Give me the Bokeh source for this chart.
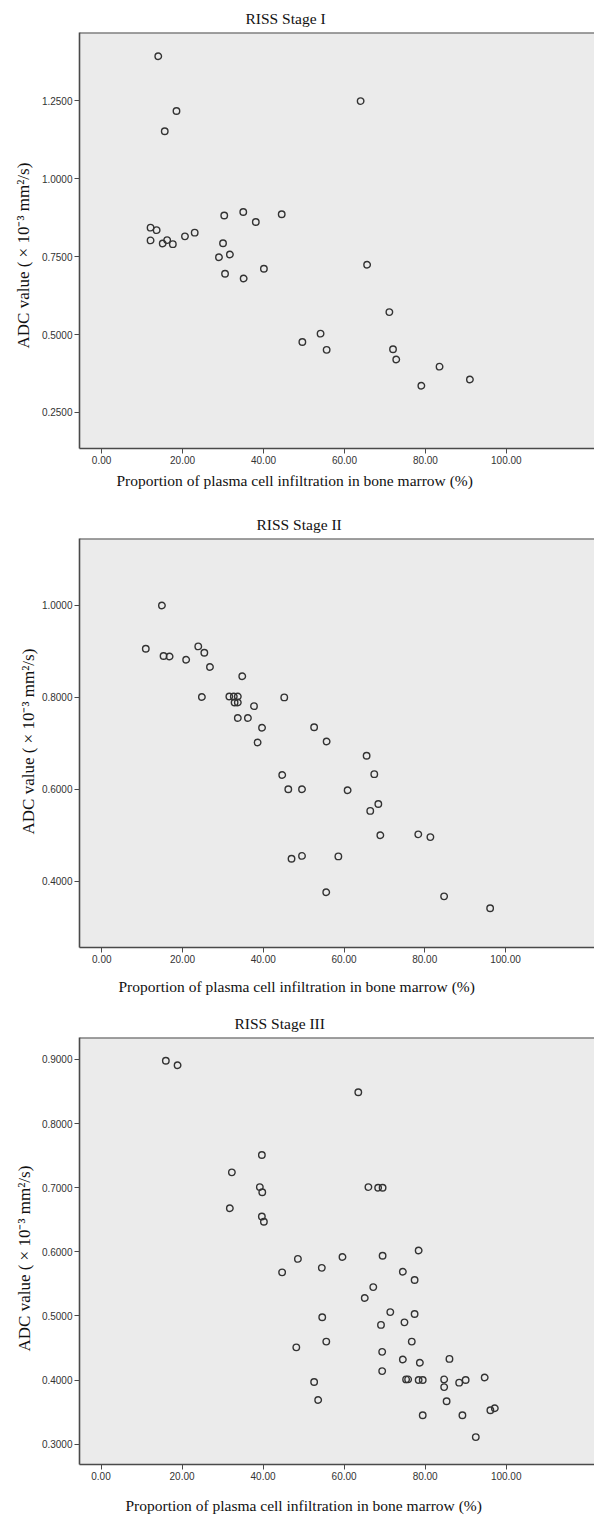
import math
from bokeh.plotting import figure
from bokeh.layouts import column
from bokeh.models import FixedTicker, Span, Range1d, PrintfTickFormatter, Title
from bokeh.embed import file_html
from bokeh.resources import INLINE

# ---------------- data ----------------
TITLES = ["RISS Stage I", "RISS Stage II", "RISS Stage III"]
X_LABEL = "Proportion of plasma cell infiltration in bone marrow (%)"
Y_LABEL = "ADC value ( \u00d7 10\u207b\u00b3 mm\u00b2/s)"

X_TICKS = [0, 20, 40, 60, 80, 100]
X_TICK_LABELS = ["0.00", "20.00", "40.00", "60.00", "80.00", "100.00"]

Y1_TICKS = [0.25, 0.5, 0.75, 1.0, 1.25]
Y1_TICK_LABELS = ["0.2500", "0.5000", "0.7500", "1.0000", "1.2500"]
Y2_TICKS = [0.4, 0.6, 0.8, 1.0]
Y2_TICK_LABELS = ["0.4000", "0.6000", "0.8000", "1.0000"]
Y3_TICKS = [0.3, 0.4, 0.5, 0.6, 0.7, 0.8, 0.9]
Y3_TICK_LABELS = ["0.3000", "0.4000", "0.5000", "0.6000", "0.7000", "0.8000", "0.9000"]

STAGE1_X = [14.0, 18.5, 15.6, 64.0, 30.3, 35.0, 38.1, 44.5, 12.1, 13.6, 12.1, 15.1,
            16.2, 17.6, 20.6, 23.0, 30.0, 29.0, 31.7, 30.5, 35.1, 40.1, 65.6, 71.1,
            54.1, 49.6, 55.6, 72.0, 72.8, 83.5, 79.0, 91.0]
STAGE1_Y = [1.393, 1.217, 1.152, 1.249, 0.882, 0.893, 0.861, 0.886, 0.843, 0.835, 0.802, 0.792,
            0.803, 0.790, 0.815, 0.827, 0.793, 0.748, 0.757, 0.695, 0.680, 0.711, 0.724, 0.572,
            0.503, 0.476, 0.451, 0.453, 0.420, 0.397, 0.336, 0.356]

STAGE2_X = [14.9, 10.9, 15.3, 16.8, 20.9, 23.9, 25.4, 26.8, 34.8, 24.8, 31.6, 32.7,
            33.7, 32.9, 33.7, 37.7, 45.2, 33.7, 36.2, 39.7, 52.6, 38.6, 55.7, 65.6,
            44.7, 67.5, 46.2, 49.6, 60.9, 68.5, 66.5, 69.0, 78.4, 81.4, 47.0, 49.6,
            58.6, 55.6, 84.8, 96.2]
STAGE2_Y = [1.000, 0.906, 0.890, 0.889, 0.882, 0.911, 0.897, 0.866, 0.846, 0.801, 0.802, 0.802,
            0.802, 0.789, 0.789, 0.781, 0.800, 0.755, 0.755, 0.734, 0.735, 0.702, 0.704, 0.673,
            0.631, 0.633, 0.600, 0.600, 0.598, 0.568, 0.553, 0.500, 0.502, 0.496, 0.449, 0.455,
            0.454, 0.376, 0.367, 0.341]

STAGE3_X = [16.0, 18.9, 63.5, 39.7, 32.3, 39.2, 39.8, 31.8, 39.7, 40.2, 66.0, 68.4,
            69.5, 48.6, 59.6, 69.5, 78.4, 54.5, 44.7, 74.5, 77.4, 67.2, 65.1, 71.4,
            77.4, 54.6, 69.1, 74.9, 76.7, 55.6, 48.2, 69.4, 74.5, 78.7, 86.0, 69.4,
            75.3, 75.8, 78.4, 79.4, 84.7, 84.7, 90.0, 88.4, 94.7, 52.6, 53.6, 85.3,
            79.4, 89.2, 96.1, 97.2, 92.5]
STAGE3_Y = [0.898, 0.891, 0.849, 0.751, 0.724, 0.701, 0.693, 0.668, 0.655, 0.647, 0.701, 0.700,
            0.700, 0.589, 0.592, 0.594, 0.602, 0.575, 0.568, 0.569, 0.556, 0.545, 0.528, 0.506,
            0.503, 0.498, 0.486, 0.490, 0.460, 0.460, 0.451, 0.444, 0.432, 0.427, 0.433, 0.414,
            0.401, 0.401, 0.400, 0.400, 0.401, 0.389, 0.400, 0.396, 0.404, 0.397, 0.369, 0.367,
            0.345, 0.345, 0.353, 0.356, 0.311]

# ---------------- styles ----------------
W = 594
SERIF = "Liberation Serif"
SANS = "Liberation Sans"
BG = "#ebebeb"
DARK = "#4a4a4a"
TEXT = "#111111"

PANELS = [
    dict(title=TITLES[0], xs=STAGE1_X, ys=STAGE1_Y, yt=Y1_TICKS, ytl=Y1_TICK_LABELS,
         h=500, left=74, top=32, bottom=52, xr=(-5.46, 121.78), yr=(0.1345, 1.469),
         t_off=166, xl_off=37, xl_gap=1, yl_off=100, yl_stand=12),
    dict(title=TITLES[1], xs=STAGE2_X, ys=STAGE2_Y, yt=Y2_TICKS, ytl=Y2_TICK_LABELS,
         h=500, left=79, top=38, bottom=53, xr=(-5.52, 122.05), yr=(0.2557, 1.1458),
         t_off=177, xl_off=39, xl_gap=8, yl_off=113, yl_stand=2),
    dict(title=TITLES[2], xs=STAGE3_X, ys=STAGE3_Y, yt=Y3_TICKS, ytl=Y3_TICK_LABELS,
         h=515, left=75, top=37, bottom=51, xr=(-5.31, 121.8), yr=(0.2683, 0.9343),
         t_off=155, xl_off=46, xl_gap=10, yl_off=113, yl_stand=10),
]


def make_panel(c):
    p = figure(width=W, height=c["h"], output_backend="svg", toolbar_location=None,
               title=None, x_range=Range1d(*c["xr"]), y_range=Range1d(*c["yr"]),
               min_border_left=c["left"], min_border_right=0,
               min_border_top=c["top"], min_border_bottom=c["bottom"])
    p.background_fill_color = BG
    p.border_fill_color = "white"
    p.outline_line_color = None
    p.grid.grid_line_color = None

    for ax, ticks, labels, fmt in ((p.xaxis[0], X_TICKS, X_TICK_LABELS, "%.2f"),
                                   (p.yaxis[0], c["yt"], c["ytl"], "%.4f")):
        ax.ticker = FixedTicker(ticks=ticks)
        ax.formatter = PrintfTickFormatter(format=fmt)
        ax.major_label_overrides = {t: l for t, l in zip(ticks, labels)}
        ax.axis_line_color = DARK
        ax.axis_line_width = 1.6
        ax.major_tick_line_color = DARK
        ax.major_tick_line_width = 1
        ax.major_tick_out = 5
        ax.major_tick_in = 0
        ax.minor_tick_line_color = None
        ax.major_label_text_font = SANS
        ax.major_label_text_font_size = "10px"
        ax.major_label_text_color = "#333333"
        ax.major_label_standoff = 2

    # blank spacer label under the x tick labels (pushes the x title down)
    xax = p.xaxis[0]
    xax.axis_label = " "
    xax.axis_label_text_font_size = "1px"
    xax.axis_label_standoff = c["xl_gap"]

    # top border of the plot frame
    p.add_layout(Span(location=c["yr"][1], dimension="width", line_color=DARK, line_width=2))

    p.scatter(c["xs"], c["ys"], marker="circle", size=6.5, fill_color=None,
              line_color="#333333", line_width=1.4)

    p.add_layout(Title(text=c["title"], align="left", offset=c["t_off"],
                       text_font=SERIF, text_font_size="15.5px", text_font_style="normal",
                       text_color=TEXT, standoff=12), "above")
    p.add_layout(Title(text=X_LABEL, align="left", offset=c["xl_off"],
                       vertical_align="top",
                       text_font=SERIF, text_font_size="15.5px", text_font_style="normal",
                       text_color=TEXT, standoff=0), "below")
    p.add_layout(Title(text=Y_LABEL, align="left", offset=c["yl_off"],
                       vertical_align="bottom",
                       text_font=SERIF, text_font_size="17px", text_font_style="normal",
                       text_color=TEXT, standoff=c["yl_stand"]), "left")
    return p


layout = column(*[make_panel(c) for c in PANELS], spacing=0)

with open("out.html", "w") as f:
    f.write(file_html(layout, INLINE))
